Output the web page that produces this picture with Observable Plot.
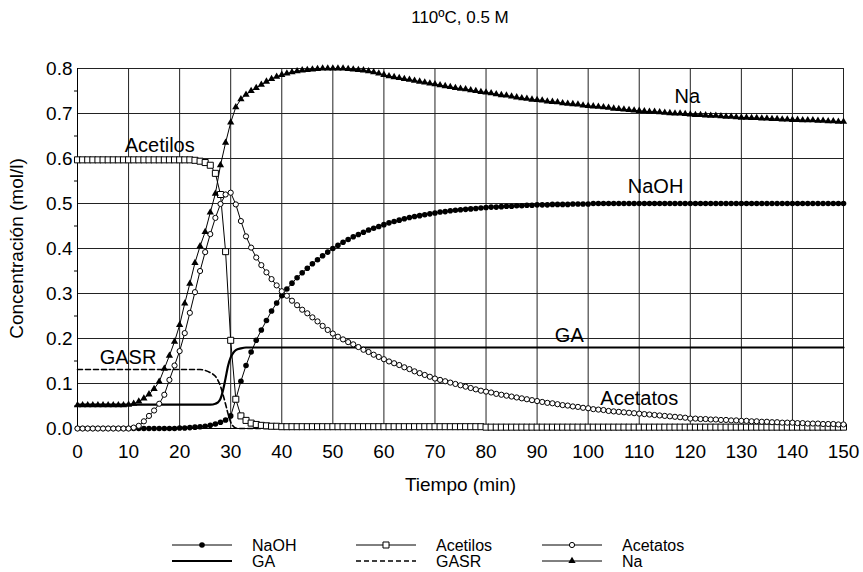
<!DOCTYPE html>
<html><head><meta charset="utf-8">
<script src="https://cdn.jsdelivr.net/npm/d3@7"></script>
<script src="https://cdn.jsdelivr.net/npm/@observablehq/plot@0.6"></script>
<style>
body{margin:0;background:#fff;font-family:"Liberation Sans",Arial,sans-serif;}
#wrap{position:relative;width:863px;height:572px;overflow:hidden;background:#fff;}
#title{position:absolute;left:77px;width:766px;top:8px;text-align:center;font-size:17px;line-height:20px;color:#000;}
#legend{position:absolute;left:0;top:530px;}
</style></head><body>
<div id="wrap"><div id="chart"></div><div id="title">110ºC, 0.5 M</div><svg id="legend" width="863" height="42"></svg></div>
<script>
// ---- data (time in min, concentration in mol/l) ----
const tiempo = d3.range(0, 151, 1);
const na = [
0.052,0.052,0.052,0.052,0.052,0.052,0.052,0.052,0.052,0.052,
0.053,0.055,0.060,0.067,0.076,0.088,0.104,0.133,0.162,0.193,
0.230,0.278,0.322,0.368,0.405,0.437,0.480,0.522,0.585,0.635,
0.680,0.714,0.732,0.742,0.750,0.757,0.764,0.771,0.777,0.782,
0.786,0.789,0.792,0.794,0.796,0.797,0.798,0.799,0.800,0.800,
0.800,0.800,0.800,0.799,0.798,0.797,0.796,0.794,0.792,0.789,
0.786,0.783,0.781,0.779,0.777,0.775,0.773,0.771,0.769,0.767,
0.765,0.763,0.761,0.759,0.757,0.755,0.754,0.752,0.750,0.748,
0.747,0.745,0.743,0.741,0.740,0.738,0.736,0.734,0.733,0.731,
0.730,0.729,0.727,0.726,0.725,0.723,0.722,0.721,0.720,0.718,
0.717,0.716,0.715,0.714,0.713,0.711,0.710,0.709,0.708,0.707,
0.706,0.705,0.704,0.704,0.703,0.702,0.701,0.700,0.700,0.699,
0.698,0.697,0.697,0.696,0.695,0.695,0.694,0.693,0.693,0.692,
0.691,0.691,0.690,0.690,0.689,0.689,0.688,0.688,0.687,0.687,
0.686,0.686,0.685,0.685,0.685,0.684,0.684,0.683,0.683,0.682,
0.682];
const naoh = [
0,0,0,0,0,0,0,0,0,0,
0,0,0,0,0,0,0,0,0,0,
0.001,0.001,0.002,0.003,0.004,0.005,0.007,0.010,0.014,0.019,
0.028,0.065,0.105,0.140,0.170,0.196,0.219,0.240,0.261,0.279,
0.295,0.310,0.323,0.335,0.346,0.356,0.366,0.375,0.384,0.392,
0.400,0.407,0.414,0.420,0.426,0.431,0.436,0.441,0.445,0.449,
0.453,0.457,0.460,0.463,0.466,0.469,0.471,0.473,0.475,0.477,
0.479,0.481,0.482,0.484,0.485,0.486,0.487,0.488,0.489,0.490,
0.491,0.492,0.492,0.493,0.494,0.494,0.495,0.495,0.496,0.496,
0.497,0.497,0.497,0.498,0.498,0.498,0.498,0.499,0.499,0.499,
0.499,0.500,0.500,0.500,0.500,0.500,0.500,0.500,0.500,0.500,
0.500,0.500,0.500,0.500,0.500,0.500,0.500,0.500,0.500,0.500,
0.500,0.500,0.500,0.500,0.500,0.500,0.500,0.500,0.500,0.500,
0.500,0.500,0.500,0.500,0.500,0.500,0.500,0.500,0.500,0.500,
0.500,0.500,0.500,0.500,0.500,0.500,0.500,0.500,0.500,0.500,
0.500];
const acetilos = [
0.597,0.597,0.597,0.597,0.597,0.597,0.597,0.597,0.597,0.597,
0.597,0.597,0.597,0.597,0.597,0.597,0.597,0.597,0.597,0.597,
0.597,0.597,0.597,0.596,0.594,0.591,0.585,0.567,0.520,0.393,
0.196,0.065,0.028,0.018,0.012,0.009,0.007,0.006,0.005,0.005,
0.004,0.004,0.004,0.004,0.004,0.004,0.004,0.004,0.004,0.004,
0.004,0.004,0.004,0.004,0.004,0.004,0.004,0.004,0.004,0.004,
0.004,0.004,0.004,0.004,0.004,0.004,0.004,0.004,0.004,0.004,
0.004,0.004,0.004,0.004,0.004,0.004,0.004,0.004,0.004,0.004,
0.003,0.003,0.003,0.003,0.003,0.003,0.003,0.003,0.003,0.003,
0.003,0.003,0.003,0.003,0.003,0.003,0.003,0.003,0.003,0.003,
0.003,0.003,0.003,0.003,0.003,0.003,0.003,0.003,0.003,0.003,
0.003,0.003,0.003,0.003,0.003,0.003,0.003,0.003,0.003,0.003,
0.003,0.003,0.003,0.003,0.003,0.003,0.003,0.003,0.003,0.003,
0.003,0.003,0.003,0.003,0.003,0.003,0.003,0.003,0.003,0.003,
0.003,0.003,0.003,0.003,0.003,0.003,0.003,0.003,0.003,0.003,
0.003];
const acetatos = [
0,0,0,0,0,0,0,0,0,0,
0,0.002,0.006,0.016,0.028,0.040,0.055,0.075,0.108,0.140,
0.172,0.212,0.257,0.303,0.350,0.392,0.432,0.468,0.499,0.520,
0.524,0.498,0.461,0.427,0.402,0.380,0.363,0.347,0.332,0.318,
0.305,0.295,0.284,0.274,0.264,0.256,0.247,0.238,0.228,0.219,
0.211,0.204,0.198,0.192,0.187,0.181,0.175,0.170,0.164,0.159,
0.154,0.149,0.145,0.141,0.136,0.132,0.127,0.123,0.119,0.115,
0.111,0.108,0.105,0.102,0.099,0.096,0.093,0.090,0.087,0.084,
0.082,0.080,0.077,0.075,0.073,0.071,0.069,0.067,0.065,0.063,
0.061,0.059,0.057,0.056,0.054,0.052,0.051,0.049,0.048,0.046,
0.045,0.043,0.042,0.041,0.039,0.038,0.037,0.036,0.035,0.034,
0.033,0.032,0.031,0.030,0.029,0.028,0.027,0.026,0.025,0.024,
0.022,0.022,0.021,0.021,0.020,0.020,0.019,0.019,0.018,0.018,
0.017,0.017,0.016,0.016,0.015,0.015,0.014,0.014,0.013,0.013,
0.013,0.012,0.012,0.011,0.011,0.011,0.010,0.010,0.010,0.009,
0.009];
const gaT = [0, 26, 27, 27.5, 28, 28.5, 29, 29.5, 30, 30.5, 31, 32, 33, 150];
const gaV = [0.053, 0.053, 0.055, 0.058, 0.066, 0.085, 0.112, 0.140, 0.158, 0.168, 0.174, 0.178, 0.180, 0.180];
const gasrT = [0, 24, 25, 26, 27, 27.5, 28, 28.5, 29, 29.5, 30, 30.5, 31, 32, 150];
const gasrV = [0.131, 0.131, 0.129, 0.124, 0.116, 0.107, 0.094, 0.075, 0.054, 0.032, 0.014, 0.005, 0.001, 0, 0];
const xTicks = d3.range(0, 151, 10);
const yTicks = [0, 0.1, 0.2, 0.3, 0.4, 0.5, 0.6, 0.7, 0.8];
const yMinor = [0.05, 0.15, 0.25, 0.35, 0.45, 0.55, 0.65, 0.75];
const labelNames = ["Acetilos", "GASR", "Na", "NaOH", "GA", "Acetatos"];
const labelT = [16.1, 9.9, 119.4, 113.2, 96.3, 110];
const labelV = [0.628, 0.157, 0.737, 0.537, 0.207, 0.067];

// ---- tables ----
const rows = (ts, vs) => ts.map((t, i) => ({t, v: vs[i]}));
const dNa = rows(tiempo, na), dNaoh = rows(tiempo, naoh), dAcl = rows(tiempo, acetilos), dAct = rows(tiempo, acetatos);
const dGa = rows(gaT, gaV), dGasr = rows(gasrT, gasrV);
const dLabels = labelNames.map((n, i) => ({n, t: labelT[i], v: labelV[i]}));

const FONT = "'Liberation Sans', Arial, sans-serif";
const chart = Plot.plot({
  width: 863, height: 572,
  marginLeft: 77, marginRight: 20, marginTop: 68, marginBottom: 144,
  style: {fontFamily: FONT, fontSize: "19px", color: "#000", background: "transparent"},
  x: {domain: [0, 150]},
  y: {domain: [0, 0.8]},
  marks: [
    Plot.gridX(xTicks, {stroke: "#222", strokeOpacity: 1, strokeWidth: 1}),
    Plot.gridY(yTicks, {stroke: "#222", strokeOpacity: 1, strokeWidth: 1}),
    Plot.axisX(xTicks, {tickSize: 0, tickPadding: 16, tickFormat: d3.format("d"), label: "Tiempo (min)", labelAnchor: "center", labelArrow: "none", labelOffset: 62, fontSize: 19}),
    Plot.axisY(yTicks, {tickSize: 0, tickPadding: 5, tickFormat: d3.format(".1f"), label: "Concentración (mol/l)", labelAnchor: "center", labelArrow: "none", labelOffset: 68, fontSize: 19}),
    Plot.axisY(yMinor, {tickSize: 3, tickFormat: () => "", label: null}),
    Plot.ruleX([0], {stroke: "#000"}),
    Plot.ruleY([0], {stroke: "#000"}),
    Plot.line(dGasr, {x: "t", y: "v", stroke: "#000", strokeWidth: 1.6, strokeDasharray: "5,3", curve: "monotone-x"}),
    Plot.line(dGa, {x: "t", y: "v", stroke: "#000", strokeWidth: 2.2, curve: "monotone-x"}),
    Plot.line(dNaoh, {x: "t", y: "v", stroke: "#000", strokeWidth: 1}),
    Plot.line(dAcl, {x: "t", y: "v", stroke: "#000", strokeWidth: 1}),
    Plot.line(dAct, {x: "t", y: "v", stroke: "#000", strokeWidth: 1}),
    Plot.line(dNa, {x: "t", y: "v", stroke: "#000", strokeWidth: 1}),
    Plot.dot(dNaoh, {x: "t", y: "v", symbol: "circle", r: 2.8, fill: "#000", stroke: "none"}),
    Plot.dot(dAcl, {x: "t", y: "v", symbol: "square", r: 3.4, fill: "#fff", stroke: "#000", strokeWidth: 1}),
    Plot.dot(dAct, {x: "t", y: "v", symbol: "circle", r: 2.6, fill: "#fff", stroke: "#000", strokeWidth: 1}),
    Plot.dot(dNa, {x: "t", y: "v", symbol: "triangle", r: 2.7, fill: "#000", stroke: "none"}),
    Plot.text(dLabels, {x: "t", y: "v", text: "n", fontSize: 20, fill: "#000", textAnchor: "middle", lineAnchor: "middle"})
  ]
});
document.getElementById("chart").append(chart);

// ---- legend ----
const legendItems = [
  {name: "NaOH", sym: d3.symbolCircle, r: 2.8, fill: "#000", dash: null, w: 1},
  {name: "Acetilos", sym: d3.symbolSquare, r: 3.4, fill: "#fff", dash: null, w: 1},
  {name: "Acetatos", sym: d3.symbolCircle, r: 2.6, fill: "#fff", dash: null, w: 1},
  {name: "GA", sym: null, dash: null, w: 2.2},
  {name: "GASR", sym: null, dash: "5,3", w: 1.6},
  {name: "Na", sym: d3.symbolTriangle, r: 2.7, fill: "#000", dash: null, w: 1}
];
const colX = [172, 356, 542], rowY = [15, 31];
const leg = d3.select("#legend");
legendItems.forEach((it, i) => {
  const x0 = colX[i % 3], y0 = rowY[Math.floor(i / 3)];
  const g = leg.append("g");
  g.append("line").attr("x1", x0).attr("x2", x0 + 60).attr("y1", y0).attr("y2", y0)
    .attr("stroke", "#000").attr("stroke-width", it.w).attr("stroke-dasharray", it.dash);
  if (it.sym) {
    g.append("path").attr("d", d3.symbol(it.sym, Math.PI * it.r * it.r)())
      .attr("transform", `translate(${x0 + 30},${y0})`)
      .attr("fill", it.fill).attr("stroke", it.fill === "#fff" ? "#000" : "none");
  }
  g.append("text").attr("x", x0 + 80).attr("y", y0).attr("dy", "0.35em")
    .attr("font-family", FONT).attr("font-size", 16).attr("fill", "#000").text(it.name);
});
</script>
</body></html>
